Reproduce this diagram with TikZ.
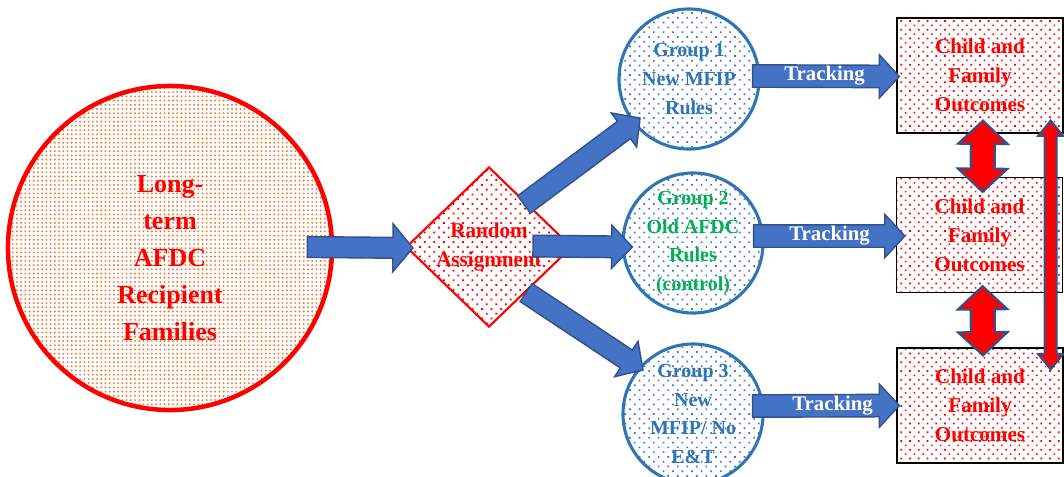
\documentclass[tikz,border=0pt]{standalone}
\usepackage{fontspec}
\setmainfont{Liberation Serif}
\usepackage{tikz}
\usetikzlibrary{shapes.geometric,patterns.meta,calc}
\definecolor{dotorange}{HTML}{ED7D31}
\definecolor{grpblue}{HTML}{2E75B6}
\definecolor{arrblue}{HTML}{4472C4}
\definecolor{arredge}{HTML}{2F528F}
\definecolor{grpgreen}{HTML}{00B050}
% block arrow: [style]{tail}{tip}{body half}{head half}{head length}
\newcommand{\blockarrow}[6][]{%
  \coordinate (bah) at ($(#3)!#6!(#2)$);
  \draw[#1] ($(#2)!#4!90:(#3)$) -- ($(bah)!#4!-90:(#2)$) -- ($(bah)!#5!-90:(#2)$) -- (#3)
    -- ($(bah)!#5!90:(#2)$) -- ($(bah)!#4!90:(#2)$) -- ($(#2)!#4!-90:(#3)$) -- cycle;}
% double block arrow: [style]{end a}{end b}{body half}{head half}{head length}
\newcommand{\dblarrow}[6][]{%
  \coordinate (dha) at ($(#2)!#6!(#3)$);
  \coordinate (dhb) at ($(#3)!#6!(#2)$);
  \draw[#1] (#2) -- ($(dha)!#5!90:(#3)$) -- ($(dha)!#4!90:(#3)$) -- ($(dhb)!#4!-90:(#2)$)
    -- ($(dhb)!#5!-90:(#2)$) -- (#3) -- ($(dhb)!#5!90:(#2)$) -- ($(dhb)!#4!90:(#2)$)
    -- ($(dha)!#4!-90:(#3)$) -- ($(dha)!#5!-90:(#3)$) -- cycle;}

\begin{document}
\begin{tikzpicture}[x=0.025cm,y=-0.025cm,
  famcirc/.style={circle, draw=red, line width=3.2pt, minimum size=8.1cm, inner sep=0pt,
    pattern={Dots[distance=3pt,radius=0.75pt]}, pattern color=dotorange},
  famtxt/.style={align=center, text=red, font=\fontsize{18.5}{26.3}\selectfont\bfseries},
  assign/.style={diamond, aspect=1, draw=red, line width=1.5pt, inner sep=0pt,
    minimum width=4.15cm, minimum height=4cm,
    pattern={Dots[distance=4.8pt,radius=0.9pt,angle=45]}, pattern color=red,
    align=center, text=red, font=\fontsize{15}{20.6}\selectfont\bfseries},
  group/.style={circle, draw=grpblue, line width=2.2pt, minimum size=3.5cm, inner sep=0pt,
    pattern={Dots[distance=4.8pt,radius=0.85pt,angle=45]}, pattern color=arrblue,
    align=center, text=grpblue, font=\fontsize{14.2}{20.5}\selectfont\bfseries},
  outcome/.style={rectangle, draw=black, line width=0.9pt, minimum width=4.15cm,
    minimum height=2.875cm, inner sep=0pt,
    pattern={Dots[distance=4.4pt,radius=0.85pt,angle=45]}, pattern color=red,
    align=center, text=red, font=\fontsize{15}{20.6}\selectfont\bfseries},
  barrow/.style={fill=arrblue, draw=arredge, line width=1pt, line join=miter},
  rarrow/.style={fill=red, draw=arredge, line width=1.5pt, line join=miter},
  tracktxt/.style={text=white, font=\fontsize{14.8}{17}\selectfont\bfseries, inner sep=0pt}]
\useasboundingbox (0,0) rectangle (1064,476);

% shapes
\node[famcirc] (fam) at (170,248) {};
\node[famtxt] (famlbl) at (170,258) {Long-\\term\\AFDC\\Recipient\\Families};
\node[assign] (ra) at (489,247) {Random\\Assignment};
\node[group] (g1) at (689,79) {Group 1\\New MFIP\\Rules};
\node[group, text=grpgreen] (g2) at (693,243) {Group 2\\Old AFDC\\Rules\\(control)};
\node[group] (g3) at (693,414) {Group 3\\New\\MFIP/ No\\E\&T};
\node[outcome] (o1) at (980,75.5) {Child and\\Family\\Outcomes};
\node[outcome] (o2) at (979.5,235) {Child and\\Family\\Outcomes};
\node[outcome] (o3) at (980,405.5) {Child and\\Family\\Outcomes};

% arrow ends
\coordinate (a0s) at ($(fam.east)+(-27,-1)$);
\coordinate (a0e) at ($(ra.west)+(8,1)$);
\coordinate (a1s) at ($(ra.north east)+(-7,-2)$);
\coordinate (a1e) at ($(g1.center)+(-49,39)$);
\coordinate (a2s) at ($(ra.center)+(44,-1)$);
\coordinate (a2e) at ($(g2.west)+(11,4)$);
\coordinate (a3s) at ($(ra.south east)+(-5,5)$);
\coordinate (a3e) at ($(g3.center)+(-50,-44)$);
\coordinate (t1s) at ($(g1.east)+(-8,-3)$);
\coordinate (t1e) at ($(o1.west)+(3,1)$);
\coordinate (t2s) at ($(g2.east)+(-11,-7)$);
\coordinate (t2e) at ($(o2.west)+(9,1)$);
\coordinate (t3s) at ($(g3.east)+(-12,-8)$);
\coordinate (t3e) at ($(o3.west)+(3,0)$);

% arrows
\blockarrow[barrow]{a0s}{a0e}{0.26cm}{0.6cm}{0.5cm}
\blockarrow[barrow]{a1s}{a1e}{0.27cm}{0.53cm}{0.5cm}
\blockarrow[barrow]{a2s}{a2e}{0.27cm}{0.54cm}{0.52cm}
\blockarrow[barrow]{a3s}{a3e}{0.27cm}{0.53cm}{0.5cm}
\blockarrow[barrow]{t1s}{t1e}{0.28cm}{0.54cm}{0.5cm}
\blockarrow[barrow]{t2s}{t2e}{0.28cm}{0.54cm}{0.5cm}
\blockarrow[barrow]{t3s}{t3e}{0.28cm}{0.54cm}{0.5cm}
\node[tracktxt] (tr1) at ($(t1s)+(72,0)$) {Tracking};
\node[tracktxt] (tr2) at ($(t2s)+(76,0)$) {Tracking};
\node[tracktxt] (tr3) at ($(t3s)+(80,0)$) {Tracking};

\dblarrow[rarrow]{$(o1.south)+(3,-13)$}{$(o2.north)+(3,15)$}{0.3cm}{0.62cm}{0.58cm}
\dblarrow[rarrow]{$(o2.south)+(3,-7)$}{$(o3.north)+(3,8)$}{0.3cm}{0.62cm}{0.58cm}
\dblarrow[rarrow]{$(o1.south east)+(-13,-13)$}{$(o3.north east)+(-13,22)$}{0.15cm}{0.31cm}{0.38cm}
\end{tikzpicture}
\end{document}
